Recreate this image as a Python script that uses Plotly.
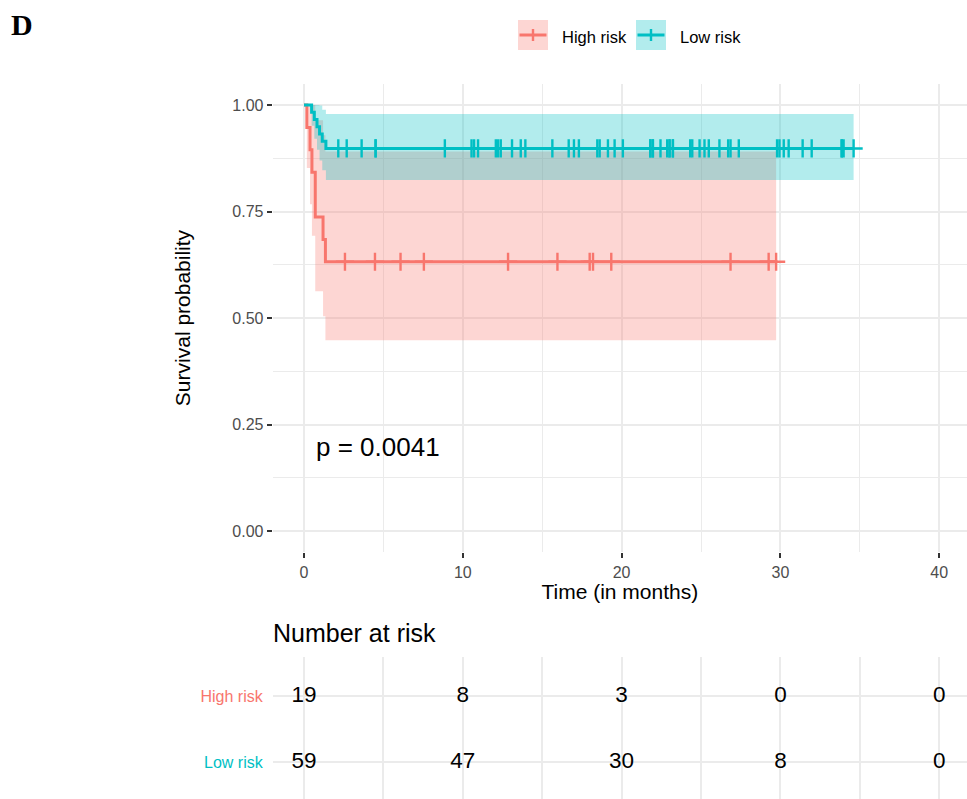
import plotly.graph_objects as go

# ---------------- data ----------------
groups = ["High risk", "Low risk"]
colors = ["#F8766D", "#00BFC4"]
band_colors = ["rgba(248,118,109,0.30)", "rgba(0,191,196,0.30)"]

# High risk group
high_event_times = [0.18, 0.38, 0.50, 0.71, 1.20, 1.35]
high_surv = [1.0, 0.947, 0.895, 0.842, 0.737, 0.684, 0.632]
high_lower = [1.0, 0.852, 0.767, 0.693, 0.563, 0.504, 0.448]
high_upper = [1.0, 1.0, 1.0, 1.0, 0.964, 0.929, 0.891]
high_censor = [2.58, 4.47, 6.08, 7.55, 12.85, 15.96, 17.99, 18.20, 19.35,
               26.86, 29.26, 29.73]

# Low risk group
low_event_times = [0.48, 0.65, 0.82, 0.98, 1.15, 1.38]
low_surv = [1.0, 0.983, 0.966, 0.949, 0.932, 0.915, 0.898]
low_lower = [1.0, 0.951, 0.921, 0.895, 0.870, 0.847, 0.824]
low_upper = [1.0, 1.0, 1.0, 1.0, 0.999, 0.989, 0.979]
low_censor = [2.16, 2.69, 3.63, 4.51, 4.51, 8.87,
              10.55, 10.71, 10.96, 12.08, 12.22, 12.39, 13.10, 13.65, 13.94,
              15.64, 16.67, 17.00, 17.31, 18.47, 18.62, 19.14, 19.56,
              20.08, 21.81, 21.81, 21.97, 21.97, 22.45, 22.87, 23.02, 23.02,
              23.23, 23.23, 24.32, 24.45, 24.91, 25.22, 25.49, 26.16, 26.71,
              26.86, 27.38, 29.79, 29.94,
              30.21, 30.52, 31.40, 31.97, 33.86, 33.86, 33.98, 34.61]

p_value_text = "p = 0.0041"

# Number at risk table
risk_times = [0, 10, 20, 30, 40]
high_at_risk = [19, 8, 3, 0, 0]
low_at_risk = [59, 47, 30, 8, 0]

x_ticks = [0, 10, 20, 30, 40]
y_ticks = [0.0, 0.25, 0.50, 0.75, 1.00]
y_tick_labels = ["0.00", "0.25", "0.50", "0.75", "1.00"]

# ---------------- figure ----------------
W, H = 967, 799
FONT = "Liberation Sans, Arial, sans-serif"
GRID = "#EBEBEB"

def px_x(p):
    return p / W

def px_y(p):
    return 1 - p / H

fig = go.Figure()

series = [
    (high_event_times, high_surv, high_lower, high_upper, high_censor),
    (low_event_times, low_surv, low_lower, low_upper, low_censor),
]

# confidence bands
for gi, (et, s, lo, up, cens) in enumerate(series):
    end = max(cens)
    xs = [0.0] + et + [end]
    fig.add_trace(go.Scatter(x=xs, y=lo + [lo[-1]], mode="lines",
                             line=dict(width=0, shape="hv"),
                             hoverinfo="skip", showlegend=False,
                             xaxis="x", yaxis="y"))
    fig.add_trace(go.Scatter(x=xs, y=up + [up[-1]], mode="lines",
                             line=dict(width=0, shape="hv"),
                             fill="tonexty", fillcolor=band_colors[gi],
                             hoverinfo="skip", showlegend=False,
                             xaxis="x", yaxis="y"))

# survival step curves
for gi, (et, s, lo, up, cens) in enumerate(series):
    end = max(cens)
    xs = [0.0] + et + [end]
    fig.add_trace(go.Scatter(x=xs, y=s + [s[-1]], mode="lines",
                             line=dict(color=colors[gi], width=3, shape="hv"),
                             name=groups[gi], showlegend=False,
                             xaxis="x", yaxis="y"))

# censor marks
for gi, (et, s, lo, up, cens) in enumerate(series):
    fig.add_trace(go.Scatter(x=cens, y=[s[-1]] * len(cens), mode="markers",
                             marker=dict(symbol="cross-thin", size=13,
                                         line=dict(color=colors[gi], width=2.4)),
                             showlegend=False, hoverinfo="skip",
                             xaxis="x", yaxis="y"))

# risk table numbers
fig.add_trace(go.Scatter(x=risk_times, y=[2] * len(risk_times), mode="text",
                         text=[str(v) for v in high_at_risk],
                         textfont=dict(size=22.5, color="black", family=FONT),
                         showlegend=False, hoverinfo="skip",
                         xaxis="x2", yaxis="y2"))
fig.add_trace(go.Scatter(x=risk_times, y=[1] * len(risk_times), mode="text",
                         text=[str(v) for v in low_at_risk],
                         textfont=dict(size=22.5, color="black", family=FONT),
                         showlegend=False, hoverinfo="skip",
                         xaxis="x2", yaxis="y2"))

x_range = [-1.97, 41.75]
x_dom = [272.7 / W, 1.0]

fig.update_layout(
    width=W, height=H,
    margin=dict(l=0, r=0, t=0, b=0),
    paper_bgcolor="white", plot_bgcolor="white",
    font=dict(family=FONT, color="black"),
    showlegend=False,
    xaxis=dict(domain=x_dom, range=x_range, tickvals=x_ticks,
               showgrid=True, gridcolor=GRID, gridwidth=1.5,
               minor=dict(dtick=5, tick0=0, showgrid=True, gridcolor=GRID,
                          gridwidth=0.8, ticks=""),
               zeroline=False, showline=False,
               ticks="outside", ticklen=5, tickwidth=1.5, tickcolor="#333333",
               tickfont=dict(size=16, color="#4D4D4D", family=FONT),
               title=dict(text="Time (in months)", standoff=4,
                          font=dict(size=21, color="black", family=FONT)),
               anchor="y", automargin=False),
    yaxis=dict(domain=[px_y(552.3), px_y(83.7)], range=[-0.05, 1.05],
               tickvals=y_ticks, ticktext=y_tick_labels,
               showgrid=True, gridcolor=GRID, gridwidth=1.5,
               minor=dict(dtick=0.125, tick0=0, showgrid=True, gridcolor=GRID,
                          gridwidth=0.8, ticks=""),
               zeroline=False, showline=False,
               ticks="outside", ticklen=5, tickwidth=1.5, tickcolor="#333333",
               tickfont=dict(size=16, color="#4D4D4D", family=FONT),
               title=dict(text="Survival probability", standoff=36,
                          font=dict(size=21, color="black", family=FONT)),
               anchor="x", automargin=False),
    xaxis2=dict(domain=x_dom, range=x_range, tickvals=x_ticks,
                showticklabels=False, ticks="",
                showgrid=True, gridcolor=GRID, gridwidth=1.5,
                minor=dict(dtick=5, tick0=0, showgrid=True, gridcolor=GRID,
                           gridwidth=1.5, ticks=""),
                zeroline=False, showline=False, anchor="y2", automargin=False),
    yaxis2=dict(domain=[0.0, px_y(657)], range=[0.439, 2.591],
                tickvals=[1, 2],
                ticktext=['<span style="color:#00BFC4">' + groups[1] + '</span>',
                          '<span style="color:#F8766D">' + groups[0] + '</span>'],
                tickfont=dict(size=16, family=FONT),
                ticklabelstandoff=9,
                ticks="", showgrid=True, gridcolor=GRID, gridwidth=1.5,
                zeroline=False, showline=False, anchor="x2", automargin=False),
)

# p-value
fig.add_annotation(x=4.65, y=0.197, xref="x", yref="y", text=p_value_text,
                   showarrow=False, xanchor="center", yanchor="middle",
                   font=dict(size=26, color="black", family=FONT))

# table title
fig.add_annotation(x=px_x(271), y=px_y(633), xref="paper", yref="paper",
                   text="Number at risk", showarrow=False,
                   xanchor="left", yanchor="middle",
                   font=dict(size=25, color="black", family=FONT))

# panel label
fig.add_annotation(x=px_x(9), y=px_y(25), xref="paper", yref="paper",
                   text="<b>D</b>", showarrow=False,
                   xanchor="left", yanchor="middle",
                   font=dict(size=30, color="black",
                             family="Liberation Serif, Times New Roman, serif"))

# manual legend (top)
legend_keys = [(518, 548, 560), (636, 666, 678)]
for gi, (k0, k1, tx) in enumerate(legend_keys):
    fig.add_shape(type="rect", xref="paper", yref="paper",
                  x0=px_x(k0), x1=px_x(k1), y0=px_y(50), y1=px_y(20),
                  fillcolor=band_colors[gi], line=dict(width=0))
    fig.add_shape(type="line", xref="paper", yref="paper",
                  x0=px_x(k0 + 1.5), x1=px_x(k1 - 1.5), y0=px_y(35), y1=px_y(35),
                  line=dict(color=colors[gi], width=3))
    fig.add_shape(type="line", xref="paper", yref="paper",
                  x0=px_x((k0 + k1) / 2), x1=px_x((k0 + k1) / 2),
                  y0=px_y(29), y1=px_y(41),
                  line=dict(color=colors[gi], width=2.4))
    fig.add_annotation(x=px_x(tx), y=px_y(37), xref="paper", yref="paper",
                       text=groups[gi], showarrow=False,
                       xanchor="left", yanchor="middle",
                       font=dict(size=16.5, color="black", family=FONT))

fig.write_html("out.html")
